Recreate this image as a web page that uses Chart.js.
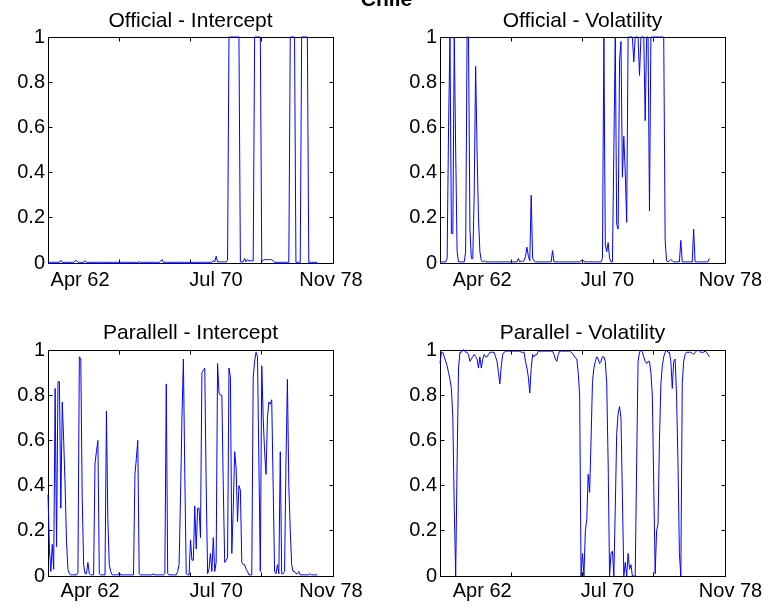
<!DOCTYPE html>
<html>
<head>
<meta charset="utf-8">
<script src="https://cdn.jsdelivr.net/npm/chart.js@4/dist/chart.umd.min.js"></script>
<style>
  body { margin: 0; background: #fff; }
  #fig { position: relative; width: 773px; height: 608px; overflow: hidden; background: #fff; }
  #fig canvas { position: absolute; }
  #suptitle {
    position: absolute; left: 0; top: -12px; width: 773px; text-align: center;
    font: bold 21px 'Liberation Sans', Arial, Helvetica, sans-serif; line-height: 21px; color: #000;
  }
</style>
</head>
<body>
<div id="fig">
  <canvas id="c1" width="386" height="300" style="left:0;top:0"></canvas>
  <canvas id="c2" width="383" height="300" style="left:390px;top:0"></canvas>
  <canvas id="c3" width="386" height="308" style="left:0;top:300px"></canvas>
  <canvas id="c4" width="383" height="308" style="left:390px;top:300px"></canvas>
  <div id="suptitle">Chile</div>
</div>
<script>
// smoothed regime probabilities, one value per observation
const offIntercept = [
  0.003, 0.003, 0.003, 0.003, 0.003, 0.003, 0.003, 0.003, 0.003, 0.012,
  0.003, 0.003, 0.003, 0.003, 0.003, 0.003, 0.003, 0.003, 0.003, 0.010,
  0.010, 0.003, 0.003, 0.003, 0.003, 0.003, 0.010, 0.003, 0.003, 0.003,
  0.003, 0.003, 0.003, 0.003, 0.003, 0.003, 0.003, 0.003, 0.003, 0.003,
  0.003, 0.003, 0.003, 0.003, 0.003, 0.003, 0.003, 0.003, 0.003, 0.003,
  0.003, 0.003, 0.003, 0.003, 0.003, 0.003, 0.003, 0.003, 0.003, 0.003,
  0.003, 0.003, 0.003, 0.003, 0.006, 0.003, 0.003, 0.003, 0.003, 0.003,
  0.003, 0.003, 0.003, 0.003, 0.003, 0.003, 0.003, 0.003, 0.003, 0.008,
  0.015, 0.003, 0.003, 0.003, 0.003, 0.003, 0.003, 0.003, 0.003, 0.003,
  0.003, 0.003, 0.003, 0.003, 0.003, 0.003, 0.003, 0.003, 0.003, 0.003,
  0.003, 0.003, 0.003, 0.003, 0.003, 0.003, 0.003, 0.003, 0.003, 0.003,
  0.003, 0.003, 0.003, 0.003, 0.003, 0.003, 0.010, 0.005, 0.030, 0.005,
  0.005, 0.005, 0.005, 0.005, 0.005, 0.005, 0.010, 1, 1, 1,
  1, 1, 1, 1, 1, 0.005, 0.005, 0.005, 0.020, 0.005,
  0.015, 0.010, 0.010, 0.010, 0.010, 1, 1, 1, 1, 1,
  0.005, 0.012, 0.015, 0.015, 0.015, 0.015, 0.015, 0.015, 0.010, 0.003,
  0.003, 0.003, 0.003, 0.003, 0.003, 0.003, 0.003, 0.003, 0.003, 0.003,
  1, 1, 1, 1, 0.003, 0.003, 0.003, 0.003, 1, 1,
  1, 1, 1, 0.003, 0.003, 0.003, 0.003, 0.003, 0.003, 0.003
];

const offVolatility = [
  0.005, 0.005, 0.005, 0.005, 0.005, 0.020, 0.600, 1, 0.130, 0.130,
  1, 0.500, 0.050, 0.005, 0.005, 0.005, 0.005, 0.005, 0.050, 1,
  1, 0.150, 0.020, 0.020, 0.300, 0.870, 0.500, 0.200, 0.050, 0.010,
  0.005, 0.010, 0.005, 0.005, 0.005, 0.005, 0.005, 0.005, 0.005, 0.005,
  0.005, 0.005, 0.005, 0.005, 0.005, 0.005, 0.005, 0.005, 0.005, 0.005,
  0.005, 0.005, 0.005, 0.005, 0.005, 0.020, 0.005, 0.010, 0.005, 0.010,
  0.030, 0.070, 0.030, 0.010, 0.300, 0.020, 0.010, 0.005, 0.005, 0.005,
  0.005, 0.005, 0.005, 0.005, 0.005, 0.005, 0.005, 0.005, 0.005, 0.055,
  0.005, 0.005, 0.005, 0.005, 0.005, 0.005, 0.005, 0.005, 0.005, 0.005,
  0.005, 0.005, 0.005, 0.005, 0.005, 0.005, 0.005, 0.005, 0.005, 0.010,
  0.012, 0.008, 0.005, 0.005, 0.005, 0.005, 0.005, 0.005, 0.005, 0.005,
  0.005, 0.005, 0.005, 0.005, 0.020, 1, 0.080, 0.050, 0.090, 0.020,
  0.005, 0.005, 0.500, 1, 0.170, 0.150, 0.900, 0.980, 0.380, 0.560,
  0.400, 0.180, 1, 1, 1, 1, 0.890, 1, 1, 1,
  0.830, 1, 1, 1, 0.630, 1, 1, 0.230, 1, 1,
  1, 1, 1, 1, 1, 1, 1, 1, 0.100, 0.010,
  0.005, 0.010, 0.015, 0.010, 0.005, 0.005, 0.005, 0.005, 0.005, 0.100,
  0.005, 0.005, 0.005, 0.005, 0.005, 0.005, 0.005, 0.005, 0.150, 0.005,
  0.005, 0.005, 0.005, 0.005, 0.005, 0.005, 0.005, 0.005, 0.005, 0.020
];

const parIntercept = [
  0.36, 0.12, 0.02, 0.14, 0.03, 0.83, 0.13, 0.86, 0.86, 0.30,
  0.77, 0.60, 0.40, 0.15, 0.03, 0.01, 0.005, 0.005, 0.005, 0.005,
  0.005, 0.015, 0.97, 0.96, 0.35, 0.05, 0.01, 0.01, 0.06, 0.01,
  0.005, 0.005, 0.005, 0.50, 0.55, 0.60, 0.01, 0.005, 0.005, 0.005,
  0.005, 0.73, 0.25, 0.05, 0.02, 0.005, 0.005, 0.005, 0.005, 0.005,
  0.015, 0.005, 0.005, 0.005, 0.005, 0.005, 0.005, 0.005, 0.005, 0.005,
  0.005, 0.45, 0.52, 0.60, 0.01, 0.005, 0.005, 0.005, 0.005, 0.005,
  0.005, 0.005, 0.005, 0.005, 0.01, 0.005, 0.005, 0.005, 0.005, 0.005,
  0.005, 0.005, 0.01, 0.85, 0.01, 0.005, 0.005, 0.005, 0.005, 0.005,
  0.005, 0.02, 0.05, 0.35, 0.70, 0.96, 0.45, 0.01, 0.005, 0.005,
  0.16, 0.07, 0.07, 0.31, 0.12, 0.30, 0.30, 0.17, 0.90, 0.91,
  0.92, 0.40, 0.01, 0.03, 0.10, 0.02, 0.17, 0.02, 0.06, 0.94,
  0.81, 0.80, 0.80, 0.40, 0.06, 0.07, 0.08, 0.92, 0.88, 0.10,
  0.30, 0.55, 0.48, 0.24, 0.40, 0.38, 0.06, 0.05, 0.05, 0.03,
  0.02, 0.005, 0.005, 0.005, 0.88, 0.95, 0.99, 0.97, 0.50, 0.02,
  0.93, 0.70, 0.55, 0.45, 0.70, 0.77, 0.76, 0.78, 0.40, 0.02,
  0.01, 0.05, 0.01, 0.55, 0.01, 0.01, 0.02, 0.50, 0.87, 0.40,
  0.20, 0.05, 0.02, 0.02, 0.01, 0.01, 0.02, 0.005, 0.005, 0.005,
  0.005, 0.005, 0.005, 0.005, 0.01, 0.005, 0.005, 0.005, 0.005, 0.005
];

const parVolatility = [
  0.94, 0.99, 0.99, 0.97, 0.95, 0.93, 0.90, 0.87, 0.83, 0.70,
  0.30, 0.00, 0.50, 0.92, 0.99, 0.99, 1.00, 1.00, 0.99, 0.99,
  0.98, 0.95, 0.96, 0.97, 0.98, 0.97, 0.96, 0.92, 0.97, 0.92,
  0.96, 0.98, 0.97, 0.97, 0.98, 0.99, 0.99, 0.99, 0.99, 0.97,
  0.95, 0.90, 0.85, 0.93, 0.98, 0.99, 0.995, 0.995, 0.995, 0.995,
  0.995, 0.995, 0.995, 0.995, 0.995, 0.995, 0.995, 0.99, 0.99, 0.99,
  0.95, 0.92, 0.88, 0.81, 0.92, 0.98, 0.97, 0.98, 0.98, 0.995,
  0.995, 0.995, 0.995, 0.995, 0.995, 0.995, 0.995, 0.995, 0.995, 0.995,
  0.98, 0.96, 0.95, 0.98, 0.995, 0.995, 0.995, 0.995, 0.995, 0.995,
  0.995, 0.995, 0.99, 0.985, 0.975, 0.965, 0.96, 0.90, 0.80, 0.00,
  0.10, 0.00, 0.20, 0.25, 0.45, 0.37, 0.60, 0.86, 0.92, 0.95,
  0.97, 0.96, 0.94, 0.95, 0.97, 0.97, 0.95, 0.85, 0.50, 0.00,
  0.10, 0.11, 0.00, 0.30, 0.63, 0.72, 0.75, 0.70, 0.35, 0.00,
  0.06, 0.00, 0.10, 0.03, 0.05, 0.00, 0.00, 0.00, 0.50, 0.95,
  0.99, 1.00, 0.99, 0.97, 0.95, 0.94, 0.95, 0.95, 0.90, 0.80,
  0.40, 0.01, 0.20, 0.23, 0.60, 0.85, 0.93, 0.97, 0.99, 1.00,
  0.99, 0.99, 0.95, 0.83, 0.95, 0.96, 0.80, 0.50, 0.10, 0.00,
  0.85, 0.95, 0.98, 0.99, 0.99, 0.99, 0.99, 0.985, 0.98, 0.99,
  0.995, 1.00, 0.995, 0.99, 0.99, 0.99, 0.995, 0.99, 0.98, 0.97
];

// observation number of each point
const obs = offIntercept.map((_, i) => i);

const xTickLabels = ['Apr 62', 'Jul 70', 'Nov 78'];
const xTickMarks = [50, 100, 150];
const yTickValues = [0, 0.2, 0.4, 0.6, 0.8, 1];
const yTickLabels = ['0', '0.2', '0.4', '0.6', '0.8', '1'];

Chart.defaults.font.family = "'Liberation Sans', Arial, Helvetica, sans-serif";
Chart.defaults.color = '#000';

// box round the axes with inward ticks, like the original figure
const boxedAxes = {
  id: 'boxedAxes',
  beforeDatasetsDraw(chart) {
    const { ctx, chartArea: a, scales: { x, y } } = chart;
    const l = Math.floor(a.left) + 0.5, r = Math.floor(a.right) + 0.5;
    const t = Math.floor(a.top) + 0.5, b = Math.floor(a.bottom) + 0.5;
    const len = 4;
    ctx.save();
    ctx.strokeStyle = '#000';
    ctx.lineWidth = 1;
    ctx.beginPath();
    xTickMarks.forEach(v => {
      const px = Math.floor(x.getPixelForValue(v)) + 0.5;
      ctx.moveTo(px, b); ctx.lineTo(px, b - len);
      ctx.moveTo(px, t); ctx.lineTo(px, t + len);
    });
    yTickValues.forEach(v => {
      const py = Math.floor(y.getPixelForValue(v)) + 0.5;
      ctx.moveTo(l, py); ctx.lineTo(l + len, py);
      ctx.moveTo(r, py); ctx.lineTo(r - len, py);
    });
    ctx.stroke();
    ctx.strokeRect(l, t, r - l, b - t);
    ctx.restore();
  }
};

const panels = [
  { id: 'c1', title: 'Official - Intercept', values: offIntercept, labelAt: [22.5, 117.9, 198.6],
    yW: 48, padR: 53, titlePad: { top: 9, bottom: 2.8 }, xH: 37, labelPad: 5 },
  { id: 'c2', title: 'Official - Volatility', values: offVolatility, labelAt: [29.6, 117.5, 203.9],
    yW: 50, padR: 48, titlePad: { top: 9, bottom: 2.8 }, xH: 37, labelPad: 5 },
  { id: 'c3', title: 'Parallell - Intercept', values: parIntercept, labelAt: [29.5, 118, 198.6],
    yW: 48, padR: 53, titlePad: { top: 20.6, bottom: 4.2 }, xH: 32, labelPad: 3 },
  { id: 'c4', title: 'Parallel - Volatility', values: parVolatility, labelAt: [29.6, 117.5, 203.9],
    yW: 50, padR: 48, titlePad: { top: 20.6, bottom: 4.2 }, xH: 32, labelPad: 3 }
];

panels.forEach(p => {
  new Chart(document.getElementById(p.id), {
    type: 'line',
    data: {
      labels: obs,
      datasets: [{
        data: p.values,
        borderColor: '#0000ff',
        borderWidth: 1,
        pointRadius: 0,
        tension: 0,
        fill: false,
        clip: false
      }]
    },
    options: {
      responsive: false,
      animation: false,
      devicePixelRatio: 1,
      layout: { padding: { left: 0, right: p.padR, top: 0, bottom: 0 } },
      plugins: {
        legend: { display: false },
        tooltip: { enabled: false },
        title: {
          display: true,
          text: p.title,
          fullSize: false,
          color: '#000',
          font: { size: 21, weight: 'normal' },
          padding: p.titlePad
        }
      },
      scales: {
        x: {
          type: 'linear',
          min: 0,
          max: 200,
          grid: { display: false, drawTicks: false },
          border: { display: false },
          afterBuildTicks: s => { s.ticks = p.labelAt.map(v => ({ value: v })); },
          afterFit: s => { s.height = p.xH; },
          ticks: {
            autoSkip: false,
            maxRotation: 0,
            padding: p.labelPad,
            font: { size: 20 },
            callback: (v, i) => xTickLabels[i]
          }
        },
        y: {
          min: 0,
          max: 1,
          grid: { display: false, drawTicks: false },
          border: { display: false },
          afterBuildTicks: s => { s.ticks = yTickValues.map(v => ({ value: v })); },
          afterFit: s => { s.width = p.yW; },
          ticks: {
            padding: 3,
            font: { size: 20 },
            callback: (v, i) => yTickLabels[i]
          }
        }
      }
    },
    plugins: [boxedAxes]
  });
});
</script>
</body>
</html>
